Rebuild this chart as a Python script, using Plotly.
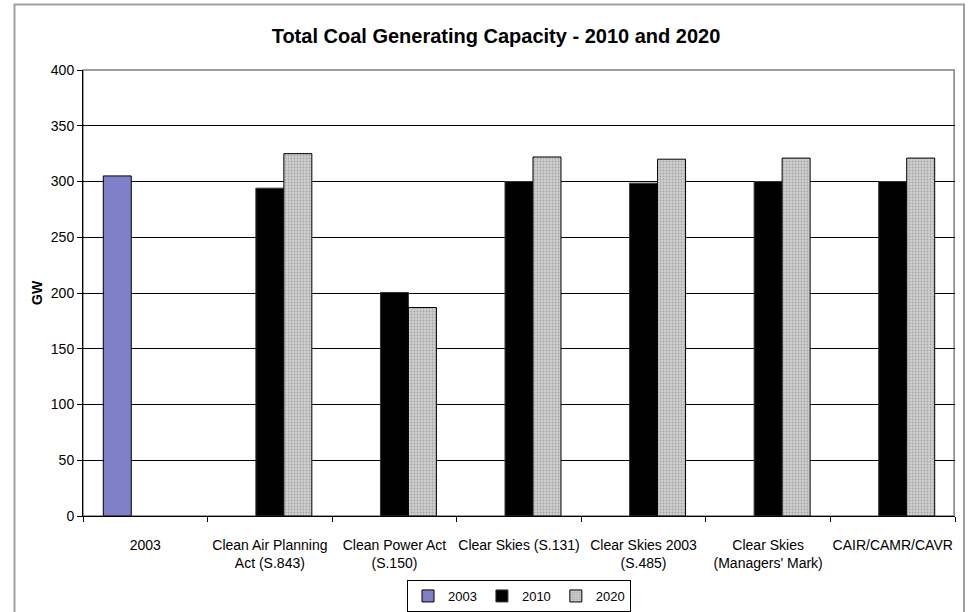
import plotly.graph_objects as go

categories = [
    "2003",
    "Clean Air Planning<br>Act (S.843)",
    "Clean Power Act<br>(S.150)",
    "Clear Skies (S.131)",
    "Clear Skies 2003<br>(S.485)",
    "Clear Skies<br>(Managers' Mark)",
    "CAIR/CAMR/CAVR",
]
series_2003 = [305, None, None, None, None, None, None]
series_2010 = [None, 294, 200.5, 300, 298.5, 300, 300]
series_2020 = [None, 325, 187, 322, 320, 321, 321]
y_ticks = [0, 50, 100, 150, 200, 250, 300, 350, 400]

FONT = "Liberation Sans, Arial, sans-serif"

fig = go.Figure()
fig.add_trace(go.Bar(
    name="2003", x=categories, y=series_2003,
    marker=dict(color="#8080C8", line=dict(color="black", width=1)),
))
fig.add_trace(go.Bar(
    name="2010", x=categories, y=series_2010,
    marker=dict(color="black", line=dict(color="#333333", width=1)),
))
fig.add_trace(go.Bar(
    name="2020", x=categories, y=series_2020,
    marker=dict(color="#C4C4C4", line=dict(color="black", width=1),
                pattern=dict(shape=".", fgcolor="#A4A4A4", bgcolor="#D0D0D0",
                             size=3, solidity=0.3, fillmode="replace")),
))

L, R, T, B = 83, 16, 70, 96
W, H = 971, 612
pw = W - L - R
ph = H - T - B

def px_x(x):
    return (x - L) / pw

def px_y(y):
    return (H - B - y) / ph

fig.update_layout(
    width=W, height=H,
    margin=dict(l=L, r=R, t=T, b=B, autoexpand=False),
    paper_bgcolor="white", plot_bgcolor="white",
    font=dict(family=FONT, size=13, color="black"),
    barmode="group", bargap=0.326, bargroupgap=0,
    showlegend=True,
    legend=dict(orientation="h", x=0.5, xanchor="center",
                y=0, yanchor="bottom", yref="container",
                bordercolor="black", borderwidth=1,
                font=dict(size=13), itemwidth=30,
                traceorder="normal"),
    title=dict(text="<b>Total Coal Generating Capacity - 2010 and 2020</b>",
               x=496 / W, xanchor="center", xref="container",
               y=1 - 36 / H, yanchor="middle", yref="container",
               font=dict(family=FONT, size=20, color="black")),
    xaxis=dict(
        type="category", showline=True, linecolor="black", linewidth=1,
        ticks="outside", ticklen=5, tickcolor="black", tickson="boundaries",
        showgrid=False, tickfont=dict(size=14), ticklabelstandoff=16,
        tickangle=0, automargin=False,
    ),
    yaxis=dict(
        range=[0, 400], tickvals=y_ticks, showline=True, linecolor="black",
        linewidth=1, ticks="outside", ticklen=5, tickcolor="black",
        showgrid=True, gridcolor="black", gridwidth=1, zeroline=False,
        tickfont=dict(size=14), automargin=False,
    ),
    annotations=[dict(
        text="<b>GW</b>", x=px_x(37), y=0.5, xref="paper", yref="paper",
        textangle=-90, showarrow=False, font=dict(size=14),
        xanchor="center", yanchor="middle",
    )],
    shapes=[
        dict(type="rect", xref="paper", yref="paper",
             x0=0, x1=0.999, y0=0, y1=1,
             line=dict(color="#808080", width=1.5), layer="below"),
        dict(type="rect", xref="paper", yref="paper",
             x0=px_x(14.5), x1=px_x(964), y0=px_y(620), y1=px_y(4.5),
             line=dict(color="#A0A0A0", width=2), layer="below"),
    ],
)

fig.write_html("out.html")
